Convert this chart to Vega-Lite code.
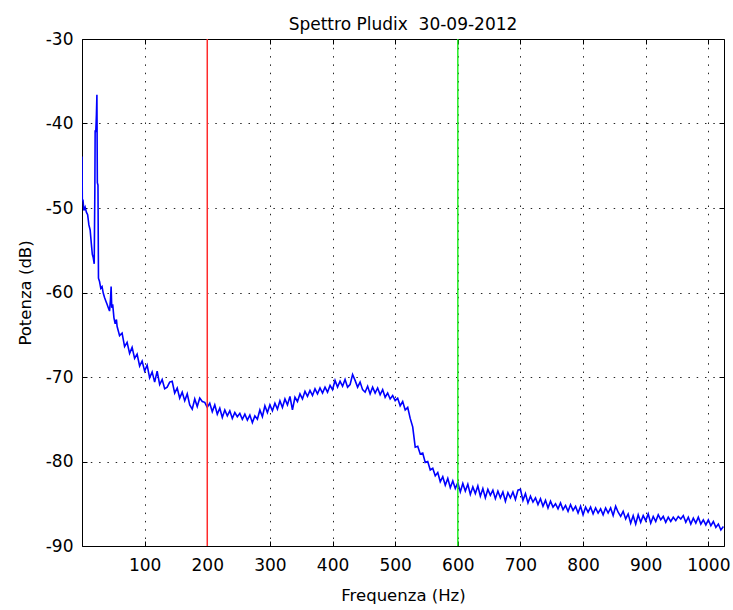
{
  "$schema": "https://vega.github.io/schema/vega-lite/v6.json",
  "width": 642,
  "height": 507,
  "autosize": "none",
  "padding": {"left": 82, "top": 39, "right": 9, "bottom": 64},
  "background": "white",
  "title": {"text": "Spettro Pludix\u00a0 30-09-2012", "font": "DejaVu Sans", "fontSize": 17, "fontWeight": "normal", "color": "black", "offset": 3, "dy": 7, "frame": "group"},
  "config": {
    "view": {"stroke": "black", "strokeWidth": 1},
    "axis": {
      "labelFont": "DejaVu Sans", "labelFontSize": 17, "labelColor": "black",
      "titleFont": "DejaVu Sans", "titleFontSize": 16.5, "titleFontWeight": "normal", "titleColor": "black",
      "domain": false, "tickColor": "black", "tickSize": -5, "tickWidth": 1,
      "gridColor": "black", "gridDash": [1.5, 6.8], "gridOpacity": 0.85, "gridWidth": 1,
      "labelExpr": "'' + datum.value"
    }
  },
  "datasets": {
    "spettro": [
      {"f":0,"p":-43.9},{"f":0.5,"p":-49.2},{"f":1.5,"p":-49.0},{"f":3,"p":-50.3},{"f":5,"p":-49.9},{"f":7,"p":-50.5},{"f":9,"p":-50.8},{"f":11,"p":-52.0},{"f":13,"p":-52.6},{"f":15,"p":-54.3},{"f":16.5,"p":-55.5},{"f":18,"p":-55.9},{"f":19.5,"p":-56.6},{"f":20.5,"p":-48.0},{"f":21,"p":-40.8},{"f":22,"p":-41.0},{"f":23,"p":-39.0},{"f":23.8,"p":-36.6},{"f":24.5,"p":-47.0},{"f":25.5,"p":-47.3},{"f":26.3,"p":-58.3},{"f":28,"p":-58.7},{"f":30,"p":-59.5},{"f":32,"p":-59.3},{"f":34,"p":-60.1},{"f":36,"p":-60.6},{"f":38,"p":-61.0},{"f":40,"p":-61.4},{"f":42,"p":-61.8},{"f":44,"p":-62.2},{"f":45.5,"p":-60.8},{"f":46.5,"p":-59.3},{"f":47.5,"p":-61.8},{"f":49,"p":-61.4},{"f":51,"p":-63.0},{"f":53,"p":-63.7},{"f":55,"p":-63.2},
      {"f":56,"p":-64.0},{"f":60,"p":-65.1},{"f":64,"p":-64.8},{"f":68,"p":-66.4},{"f":72,"p":-65.9},{"f":76,"p":-67.2},{"f":80,"p":-66.5},{"f":84,"p":-67.8},{"f":88,"p":-67.3},{"f":92,"p":-68.7},{"f":96,"p":-68.1},{"f":100,"p":-69.3},{"f":104,"p":-68.6},{"f":108,"p":-70.1},{"f":112,"p":-69.4},{"f":116,"p":-70.6},{"f":120,"p":-69.3},{"f":124,"p":-70.9},{"f":128,"p":-70.3},{"f":132,"p":-71.4},{"f":136,"p":-71.2},{"f":140,"p":-70.6},{"f":144,"p":-70.5},{"f":148,"p":-71.9},{"f":152,"p":-71.3},{"f":156,"p":-72.5},{"f":160,"p":-71.8},{"f":164,"p":-72.8},{"f":168,"p":-72.0},{"f":172,"p":-73.3},{"f":176,"p":-73.8},{"f":180,"p":-72.6},{"f":184,"p":-73.5},{"f":188,"p":-72.5},{"f":192,"p":-72.9},{"f":196,"p":-73.0},{"f":200,"p":-73.6},{"f":204,"p":-73.1},{"f":208,"p":-74.1},{"f":212,"p":-73.3},{"f":216,"p":-74.4},{"f":220,"p":-73.7},{"f":224,"p":-74.8},{"f":228,"p":-73.9},{"f":232,"p":-74.6},{"f":236,"p":-74.0},{"f":240,"p":-74.9},{"f":244,"p":-74.2},{"f":248,"p":-74.7},{"f":252,"p":-74.3},{"f":256,"p":-75.0},{"f":260,"p":-74.4},{"f":264,"p":-75.1},{"f":268,"p":-74.5},{"f":272,"p":-75.4},{"f":276,"p":-74.6},{"f":280,"p":-75.0},{"f":284,"p":-73.9},{"f":288,"p":-74.7},{"f":292,"p":-73.4},{"f":296,"p":-74.2},{"f":300,"p":-73.3},{"f":304,"p":-74.0},{"f":308,"p":-73.1},{"f":312,"p":-73.8},{"f":316,"p":-72.8},{"f":320,"p":-73.6},{"f":324,"p":-72.6},{"f":328,"p":-73.3},{"f":332,"p":-72.3},{"f":336,"p":-73.9},{"f":340,"p":-72.4},{"f":344,"p":-72.9},{"f":348,"p":-72.0},{"f":352,"p":-72.6},{"f":356,"p":-71.7},{"f":360,"p":-72.3},{"f":364,"p":-71.6},{"f":368,"p":-72.2},{"f":372,"p":-71.4},{"f":376,"p":-72.0},{"f":380,"p":-71.3},{"f":384,"p":-71.9},{"f":388,"p":-71.2},{"f":392,"p":-71.8},{"f":396,"p":-71.0},{"f":400,"p":-71.5},{"f":404,"p":-70.4},{"f":408,"p":-71.2},{"f":412,"p":-70.5},{"f":416,"p":-71.1},{"f":420,"p":-70.3},{"f":424,"p":-71.2},{"f":428,"p":-70.9},{"f":432,"p":-69.7},{"f":436,"p":-70.4},{"f":440,"p":-71.2},{"f":444,"p":-70.6},{"f":448,"p":-71.5},{"f":452,"p":-71.8},{"f":456,"p":-71.1},{"f":460,"p":-72.0},{"f":464,"p":-71.2},{"f":468,"p":-71.9},{"f":472,"p":-71.3},{"f":476,"p":-72.1},{"f":480,"p":-71.5},{"f":484,"p":-72.4},{"f":488,"p":-71.9},{"f":492,"p":-72.6},{"f":496,"p":-72.2},{"f":500,"p":-72.8},{"f":504,"p":-72.5},{"f":508,"p":-73.4},{"f":512,"p":-72.9},{"f":516,"p":-73.9},{"f":520,"p":-73.6},{"f":524,"p":-74.9},{"f":528,"p":-75.9},{"f":532,"p":-78.3},{"f":536,"p":-78.2},{"f":540,"p":-79.1},{"f":544,"p":-79.0},{"f":548,"p":-80.1},{"f":552,"p":-80.0},{"f":556,"p":-81.0},{"f":560,"p":-80.8},{"f":564,"p":-81.7},{"f":568,"p":-81.3},{"f":572,"p":-82.4},{"f":576,"p":-81.8},{"f":580,"p":-82.8},{"f":584,"p":-82.0},{"f":588,"p":-83.1},{"f":592,"p":-82.3},{"f":596,"p":-83.2},{"f":600,"p":-82.5},{"f":604,"p":-83.6},{"f":608,"p":-82.6},{"f":612,"p":-83.5},{"f":616,"p":-82.7},{"f":620,"p":-83.9},{"f":624,"p":-83.0},{"f":628,"p":-83.8},{"f":632,"p":-82.9},{"f":636,"p":-84.1},{"f":640,"p":-83.2},{"f":644,"p":-84.3},{"f":648,"p":-83.3},{"f":652,"p":-84.0},{"f":656,"p":-83.4},{"f":660,"p":-84.4},{"f":664,"p":-83.5},{"f":668,"p":-84.3},{"f":672,"p":-83.6},{"f":676,"p":-84.7},{"f":680,"p":-83.7},{"f":684,"p":-84.3},{"f":688,"p":-83.6},{"f":692,"p":-84.5},{"f":696,"p":-83.4},{"f":700,"p":-83.3},{"f":704,"p":-84.6},{"f":708,"p":-83.8},{"f":712,"p":-84.9},{"f":716,"p":-84.1},{"f":720,"p":-84.8},{"f":724,"p":-84.3},{"f":728,"p":-85.1},{"f":732,"p":-84.4},{"f":736,"p":-85.3},{"f":740,"p":-84.6},{"f":744,"p":-85.5},{"f":748,"p":-84.7},{"f":752,"p":-85.4},{"f":756,"p":-85.0},{"f":760,"p":-85.6},{"f":764,"p":-84.9},{"f":768,"p":-85.7},{"f":772,"p":-85.2},{"f":776,"p":-85.9},{"f":780,"p":-85.1},{"f":784,"p":-85.8},{"f":788,"p":-85.3},{"f":792,"p":-86.1},{"f":796,"p":-85.3},{"f":800,"p":-86.3},{"f":804,"p":-85.4},{"f":808,"p":-86.0},{"f":812,"p":-85.4},{"f":816,"p":-86.2},{"f":820,"p":-85.5},{"f":824,"p":-86.1},{"f":828,"p":-85.6},{"f":832,"p":-86.3},{"f":836,"p":-85.5},{"f":840,"p":-86.1},{"f":844,"p":-85.5},{"f":848,"p":-86.4},{"f":852,"p":-85.3},{"f":856,"p":-86.0},{"f":860,"p":-86.5},{"f":864,"p":-85.9},{"f":868,"p":-86.8},{"f":872,"p":-86.2},{"f":876,"p":-87.3},{"f":880,"p":-86.4},{"f":884,"p":-87.4},{"f":888,"p":-86.3},{"f":892,"p":-87.2},{"f":896,"p":-86.4},{"f":900,"p":-87.0},{"f":904,"p":-86.2},{"f":908,"p":-87.3},{"f":912,"p":-86.5},{"f":916,"p":-87.1},{"f":920,"p":-86.3},{"f":924,"p":-86.9},{"f":928,"p":-86.5},{"f":932,"p":-87.2},{"f":936,"p":-86.6},{"f":940,"p":-87.1},{"f":944,"p":-86.6},{"f":948,"p":-87.0},{"f":952,"p":-86.5},{"f":956,"p":-86.8},{"f":960,"p":-86.4},{"f":964,"p":-87.2},{"f":968,"p":-86.6},{"f":972,"p":-87.4},{"f":976,"p":-86.7},{"f":980,"p":-87.3},{"f":984,"p":-86.6},{"f":988,"p":-87.4},{"f":992,"p":-86.9},{"f":996,"p":-87.5},{"f":1000,"p":-86.9},{"f":1004,"p":-87.6},{"f":1008,"p":-87.1},{"f":1012,"p":-87.8},{"f":1016,"p":-87.4},{"f":1020,"p":-88.1},{"f":1024,"p":-87.7}
    ]
  },
  "layer": [
    {
      "data": {"name": "spettro"},
      "mark": {"type": "line", "color": "#0000ff", "strokeWidth": 1.6, "clip": true},
      "encoding": {
        "x": {"field": "f", "type": "quantitative", "scale": {"domain": [0, 1025], "nice": false, "zero": false},
              "axis": {"orient": "bottom", "values": [100,200,300,400,500,600,700,800,900,1000], "title": "Frequenza (Hz)", "grid": true, "labelPadding": 16, "titlePadding": 14}},
        "y": {"field": "p", "type": "quantitative", "scale": {"domain": [-90, -30], "nice": false, "zero": false},
              "axis": {"orient": "left", "values": [-90,-80,-70,-60,-50,-40,-30], "title": "Potenza (dB)", "grid": true, "labelPadding": 14, "titlePadding": 12}}
      }
    },
    {
      "data": {"name": "spettro"},
      "mark": {"type": "line", "strokeOpacity": 0},
      "encoding": {
        "x": {"field": "f", "type": "quantitative", "axis": {"orient": "top", "values": [100,200,300,400,500,600,700,800,900,1000], "labels": false, "title": null, "grid": false}},
        "y": {"field": "p", "type": "quantitative", "axis": {"orient": "right", "values": [-90,-80,-70,-60,-50,-40,-30], "labels": false, "title": null, "grid": false}}
      }
    },
    {
      "data": {"values": [{"f": 200}]},
      "mark": {"type": "rule", "color": "#ff2a2a", "strokeWidth": 1.5},
      "encoding": {"x": {"field": "f", "type": "quantitative", "axis": null}}
    },
    {
      "data": {"values": [{"f": 600}]},
      "mark": {"type": "rule", "color": "#22ee22", "strokeWidth": 1.5},
      "encoding": {"x": {"field": "f", "type": "quantitative", "axis": null}}
    }
  ]
}
